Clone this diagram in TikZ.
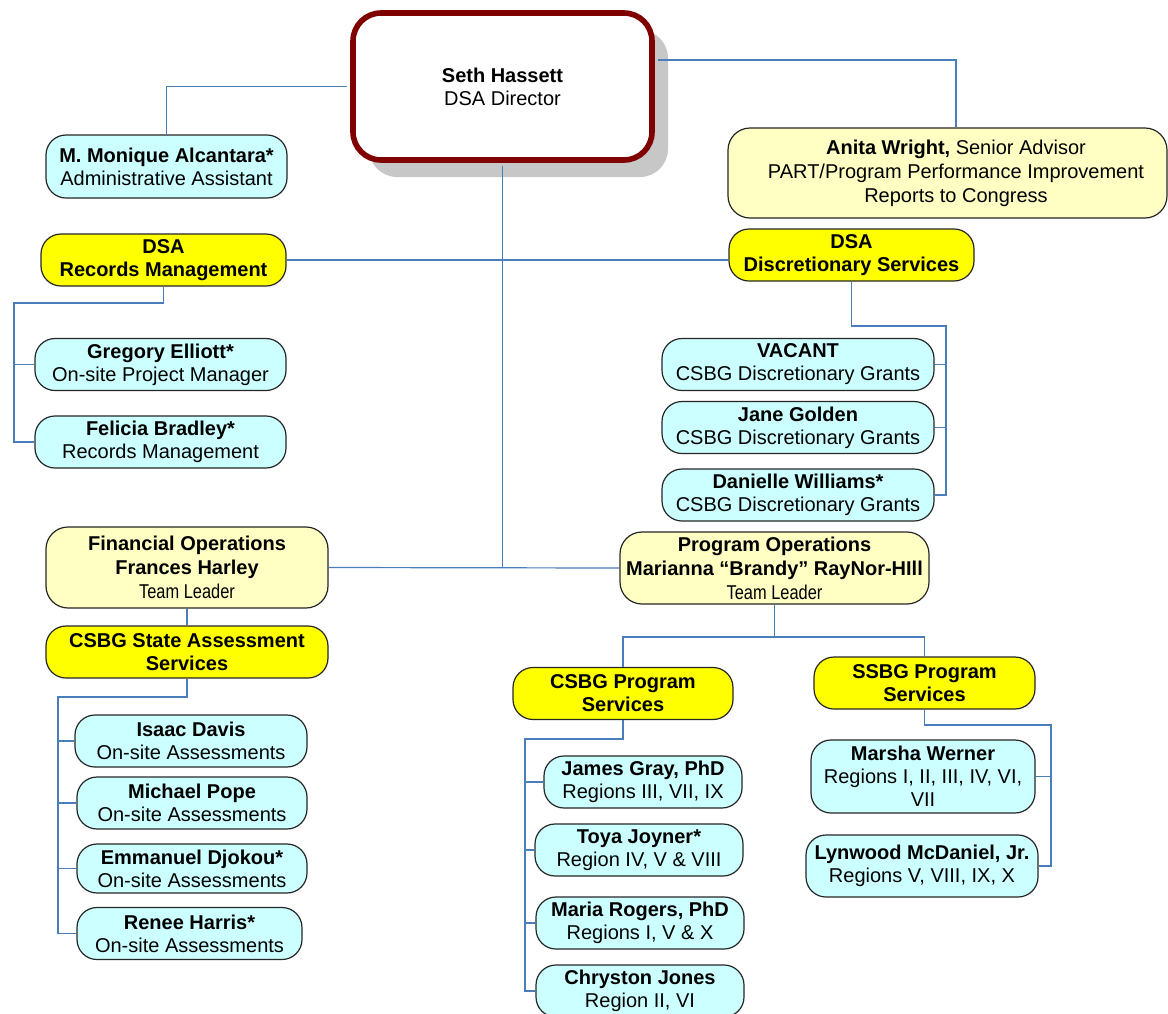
\documentclass[tikz,border=0pt]{standalone}
\usepackage{fontspec}
\setmainfont{Liberation Sans}
\newfontfamily\narrowfont[FakeStretch=0.82]{Liberation Sans}
\usetikzlibrary{shadows}

\definecolor{staffcyan}{HTML}{CCFFFF}
\definecolor{unityellow}{HTML}{FFFF00}
\definecolor{leadyellow}{HTML}{FFFFC4}
\definecolor{linkblue}{HTML}{4A7EBB}
\definecolor{dirred}{HTML}{800000}

\begin{document}
\begin{tikzpicture}[x=0.5pt, y=-0.5pt,
  every node/.style={font=\fontsize{10}{11.5}\selectfont, align=center, inner sep=0pt},
  box/.style={draw=black!85, line width=0.6pt, rounded corners=10pt, minimum height=26pt},
  staff/.style={box, fill=staffcyan},
  unit/.style={box, fill=unityellow, font=\fontsize{10}{11.5}\selectfont\bfseries},
  lead/.style={box, fill=leadyellow, rounded corners=11pt, font=\fontsize{10}{12}\selectfont},
  link/.style={draw=linkblue, line width=0.6pt}]
  \useasboundingbox (0,0) rectangle (1168,1013);

  % director
  \node[draw=dirred, line width=2.8pt, fill=white, rounded corners=14pt,
        minimum width=149.5pt, minimum height=73.5pt,
        drop shadow={shadow xshift=8pt, shadow yshift=-8.5pt, opacity=1, fill=black!22}]
        (dir) at (502.5,86.5) {\textbf{Seth Hassett}\\DSA Director};
  \node[staff, minimum width=120.5pt, minimum height=31.5pt] (mon) at (166.5,166.5)
        {\textbf{M. Monique Alcantara*}\\Administrative Assistant};
  \node[lead, minimum width=219.5pt, minimum height=45pt] (anita) at (947.5,173) {};
  \node[font=\fontsize{10}{12}\selectfont] (anitatext) at (956,173)
        {\textbf{Anita Wright,} Senior Advisor\\PART/Program Performance Improvement\\Reports to Congress};

  % records management
  \node[unit, minimum width=122.5pt] (rec) at (163.5,260) {DSA\\Records Management};
  \node[staff, minimum width=125.5pt] (greg) at (160.5,364.5) {\textbf{Gregory Elliott*}\\On-site Project Manager};
  \node[staff, minimum width=125.5pt] (fel) at (160.5,442) {\textbf{Felicia Bradley*}\\Records Management};

  % discretionary services
  \node[unit, minimum width=122.5pt] (disc) at (851.5,255) {DSA\\Discretionary Services};
  \node[staff, minimum width=136pt] (vac) at (798,364.5) {\textbf{VACANT}\\CSBG Discretionary Grants};
  \node[staff, minimum width=136pt] (jane) at (798,427.5) {\textbf{Jane Golden}\\CSBG Discretionary Grants};
  \node[staff, minimum width=136pt] (dan) at (798,495) {\textbf{Danielle Williams*}\\CSBG Discretionary Grants};

  % financial operations
  \node[lead, minimum width=141pt, minimum height=40.5pt] (fin) at (187,567.5)
        {\textbf{Financial Operations}\\\textbf{Frances Harley}\\{\narrowfont Team Leader}};
  \node[unit, minimum width=141pt] (sas) at (187,652) {CSBG State Assessment\\Services};
  \node[staff, minimum width=116pt] (isaac) at (191,741) {\textbf{Isaac Davis}\\On-site Assessments};
  \node[staff, minimum width=115pt] (pope) at (192,803) {\textbf{Michael Pope}\\On-site Assessments};
  \node[staff, minimum width=115pt, minimum height=24.5pt] (djok) at (192,868.5) {\textbf{Emmanuel Djokou*}\\On-site Assessments};
  \node[staff, minimum width=112.5pt] (harris) at (189.5,933.5) {\textbf{Renee Harris*}\\On-site Assessments};

  % program operations
  \node[lead, minimum width=154.5pt, minimum height=36pt] (prog) at (774.5,568)
        {\textbf{Program Operations}\\\textbf{Marianna “Brandy” RayNor-HIll}\\{\narrowfont Team Leader}};
  \node[unit, minimum width=110pt] (cpr) at (623,693.5) {CSBG Program\\Services};
  \node[unit, minimum width=110.5pt] (spr) at (924.5,683) {SSBG Program\\Services};
  \node[staff, minimum width=99pt] (gray) at (643,782) {\textbf{James Gray, PhD}\\Regions III, VII, IX};
  \node[staff, minimum width=104pt] (joy) at (639,850) {\textbf{Toya Joyner*}\\Region IV, V \& VIII};
  \node[staff, minimum width=104pt] (rog) at (640,923) {\textbf{Maria Rogers, PhD}\\Regions I, V \& X};
  \node[staff, minimum width=104pt] (jon) at (640,991) {\textbf{Chryston Jones}\\Region II, VI};
  \node[staff, minimum width=112pt, minimum height=36.5pt] (wer) at (923,776.5)
        {\textbf{Marsha Werner}\\Regions I, II, III, IV, VI,\\VII};
  \node[staff, minimum width=116pt, minimum height=31pt] (mcd) at (922,866)
        {\textbf{Lynwood McDaniel, Jr.}\\Regions V, VIII, IX, X};

  % bus corners
  \coordinate (recbus)  at (14,303);
  \coordinate (discbus) at (946,326);
  \coordinate (sasbus)  at (58,697);
  \coordinate (progbus) at (774.5,637);
  \coordinate (cprbus)  at (525,739);
  \coordinate (sprbus)  at (1051,725);

  % links from the director
  \draw[link, shorten <=1.4pt] (dir.west) -| (mon.north);
  \draw[link, shorten <=1.4pt] ([yshift=13.25pt]dir.east) -| ([xshift=4.25pt]anita.north);
  \draw[link, shorten <=1.4pt] (dir.south) -- (dir.south |- fin.east);
  \draw[link] (fin.east) -- (prog.west);
  \draw[link] (rec.east) -- (rec.east -| disc.west);

  % records
  \draw[link] (rec.south) |- (recbus) |- (fel.west);
  \draw[link] (recbus |- greg.west) -- (greg.west);

  % discretionary
  \draw[link] (disc.south) |- (discbus) |- (dan.east);
  \draw[link] (discbus |- vac.east) -- (vac.east);
  \draw[link] (discbus |- jane.east) -- (jane.east);

  % financial
  \draw[link] (fin.south) -- (sas.north);
  \draw[link] (sas.south) |- (sasbus) |- (harris.west);
  \foreach \n in {isaac, pope, djok}
    \draw[link] (sasbus |- \n.west) -- (\n.west);

  % program
  \draw[link] (prog.south) -- (progbus);
  \draw[link] (progbus) -| (cpr.north);
  \draw[link] (progbus) -| (spr.north);
  \draw[link] (cpr.south) |- (cprbus) |- (jon.west);
  \foreach \n in {gray, joy, rog}
    \draw[link] (cprbus |- \n.west) -- (\n.west);
  \draw[link] (spr.south) |- (sprbus) |- (mcd.east);
  \draw[link] (sprbus |- wer.east) -- (wer.east);
\end{tikzpicture}
\end{document}
